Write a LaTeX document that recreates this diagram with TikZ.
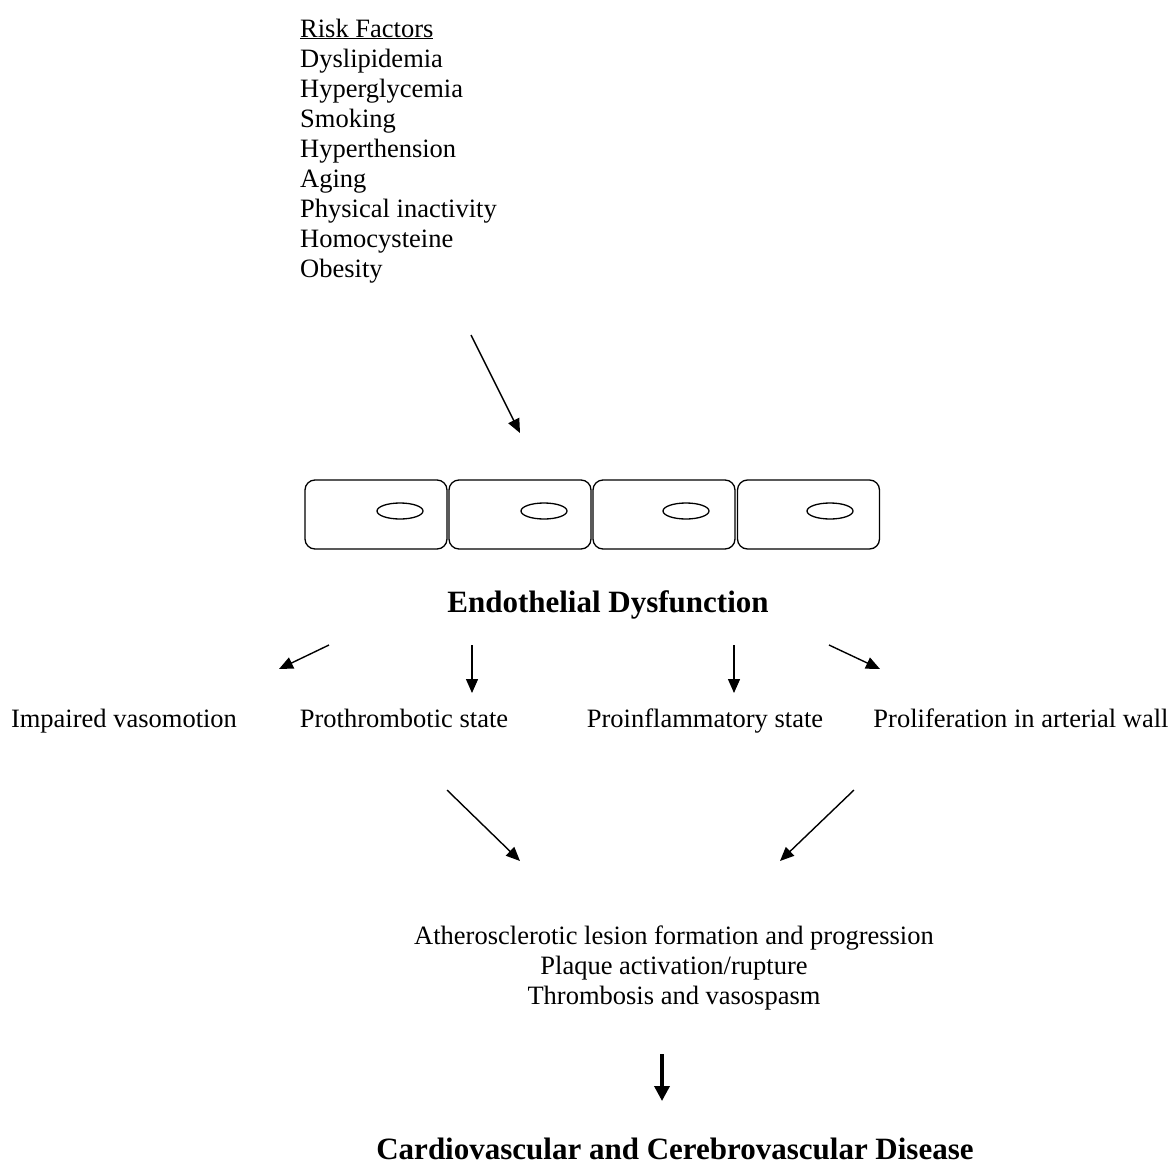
\documentclass[tikz,border=0pt]{standalone}
\usepackage{fontspec}
\setmainfont{Liberation Serif}
\usetikzlibrary{arrows.meta,shapes.geometric}
\begin{document}
\begin{tikzpicture}[x=1pt,y=-1pt,
  txt/.style={inner sep=0pt,font=\fontsize{26.5}{30}\selectfont},
  bold/.style={inner sep=0pt,font=\fontsize{31}{34}\selectfont\bfseries},
  cell/.style={draw,line width=1.3pt,rounded corners=10pt,minimum width=142pt,minimum height=69pt,inner sep=0pt},
  nuc/.style={draw,ellipse,line width=1.3pt,minimum width=46pt,minimum height=16pt,inner sep=0pt},
  arr/.style={line width=1.4pt,-{Triangle[length=14pt,width=12pt]}},
  thickarr/.style={line width=3.5pt,-{Triangle[length=15pt,width=15pt]}}]
\useasboundingbox (0,0) rectangle (1171,1170);
% risk factors
\node[txt,anchor=base west] (r0) at (300,37) {\underline{Risk Factors}};
\foreach \t [count=\i] in {Dyslipidemia,Hyperglycemia,Smoking,Hyperthension,Aging,Physical inactivity,Homocysteine,Obesity}
  \node[txt,anchor=base west] (r\i) at (300,{37+30*\i}) {\t};
% arrow to cells
\coordinate (a0s) at (471,335);
\coordinate (a0e) at (520,433);
\draw[arr] (a0s) -- (a0e);
% cells
\node[cell] (c1) at (376,514.5) {};
\node[cell] (c2) at (520,514.5) {};
\node[cell] (c3) at (664,514.5) {};
\node[cell] (c4) at (808.5,514.5) {};
\node[nuc] (n1) at (400,511) {};
\node[nuc] (n2) at (544,511) {};
\node[nuc] (n3) at (686,511) {};
\node[nuc] (n4) at (830,511) {};
% endothelial dysfunction
\node[bold,anchor=base] (ed) at (608,612) {Endothelial Dysfunction};
% arrows row 2
\coordinate (b1s) at (329,645); \coordinate (b1e) at (279,669);
\coordinate (b2s) at (472,645); \coordinate (b2e) at (472,693);
\coordinate (b3s) at (734,645); \coordinate (b3e) at (734,693);
\coordinate (b4s) at (829,645); \coordinate (b4e) at (880,669);
\draw[arr] (b1s) -- (b1e);
\draw[arr] (b2s) -- (b2e);
\draw[arr] (b3s) -- (b3e);
\draw[arr] (b4s) -- (b4e);
% labels
\node[txt,anchor=base] (l1) at (124,727) {Impaired vasomotion};
\node[txt,anchor=base] (l2) at (404,727) {Prothrombotic state};
\node[txt,anchor=base] (l3) at (705,727) {Proinflammatory state};
\node[txt,anchor=base] (l4) at (1021,727) {Proliferation in arterial wall};
% arrows row 3
\coordinate (d1s) at (447,790); \coordinate (d1e) at (520,861);
\coordinate (d2s) at (854,790); \coordinate (d2e) at (780,861);
\draw[arr] (d1s) -- (d1e);
\draw[arr] (d2s) -- (d2e);
% outcome block
\node[txt,anchor=base] (o1) at (674,944) {Atherosclerotic lesion formation and progression};
\node[txt,anchor=base] (o2) at (674,974) {Plaque activation/rupture};
\node[txt,anchor=base] (o3) at (674,1004) {Thrombosis and vasospasm};
% thick arrow
\coordinate (e1s) at (662,1054); \coordinate (e1e) at (662,1101);
\draw[thickarr] (e1s) -- (e1e);
% final
\node[bold,anchor=base] (fin) at (675,1159) {Cardiovascular and Cerebrovascular Disease};
\end{tikzpicture}
\end{document}
